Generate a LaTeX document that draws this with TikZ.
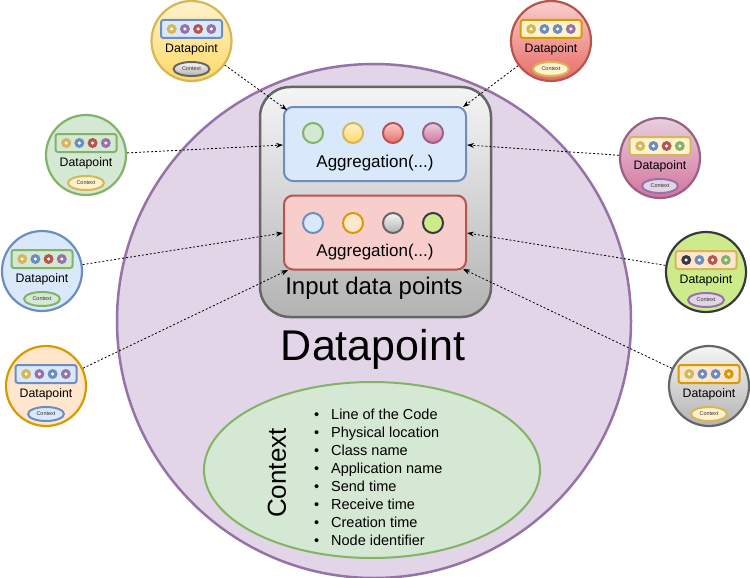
\documentclass[tikz,border=0pt]{standalone}
\usepackage{fontspec}
\setmainfont{Liberation Sans}
\usetikzlibrary{arrows.meta,shapes.geometric,calc}
\definecolor{yelF}{HTML}{FFF2CC}\definecolor{yelG}{HTML}{FFD966}\definecolor{yelS}{HTML}{D6B656}
\definecolor{redF}{HTML}{F8CECC}\definecolor{redG}{HTML}{EA6B66}\definecolor{redS}{HTML}{B85450}
\definecolor{grnF}{HTML}{D5E8D4}\definecolor{grnS}{HTML}{82B366}
\definecolor{purF}{HTML}{E6D0DE}\definecolor{purG}{HTML}{D5739D}\definecolor{purS}{HTML}{996185}
\definecolor{bluF}{HTML}{DAE8FC}\definecolor{bluS}{HTML}{6C8EBF}
\definecolor{orF}{HTML}{FFE6CC}\definecolor{orS}{HTML}{D79B00}
\definecolor{gryF}{HTML}{F5F5F5}\definecolor{gryG}{HTML}{B3B3B3}\definecolor{gryS}{HTML}{666666}
\definecolor{limF}{HTML}{CDEB8B}\definecolor{limS}{HTML}{36393D}
\definecolor{lilF}{HTML}{E1D5E7}\definecolor{lilS}{HTML}{9673A6}
\tikzset{
  dpcircle/.style={circle, minimum size=80pt, line width=2.2pt, inner sep=0pt},
  dprect/.style={rectangle, rounded corners=2.5pt, minimum width=61pt, minimum height=18pt, line width=2pt, inner sep=0pt},
  dpctx/.style={ellipse, minimum width=36pt, minimum height=14pt, line width=2pt, inner sep=0pt, font=\fontsize{5.5}{6}\selectfont, text=black!80},
  dotsm/.style={circle, minimum size=10pt, inner sep=0pt},
  dotin/.style={circle, minimum size=3.5pt, inner sep=0pt, fill=white},
  aggbox/.style={rectangle, rounded corners=9pt, minimum width=182pt, minimum height=74pt, line width=2pt, inner sep=0pt},
  aggdot/.style={circle, minimum size=20pt, line width=2pt, inner sep=0pt},
  conn/.style={black, line width=0.8pt, dash pattern=on 2pt off 2pt, -{Stealth[length=7pt,width=5pt]}},
}
\newcommand\smalldp[7]{%
  \node[dpcircle,#4] (#1) at (#2,#3) {};
  \node[dprect,#5] (#1r) at ($(#1)+(0,-12)$) {};
  \foreach \c [count=\i] in {#6} {
    \node[dotsm,fill=\c] (#1d\i) at ($(#1r)+(-19.8+13.2*\i-13.2,0)$) {};
    \node[dotin] (#1w\i) at (#1d\i) {};
  }
  \node[font=\fontsize{12.3}{12}\selectfont, inner sep=0pt] (#1t) at ($(#1)+(0,8)$) {Datapoint};
  \node[dpctx,#7] (#1c) at ($(#1)+(0,28)$) {Context};
}
\begin{document}
\begin{tikzpicture}[x=1pt,y=-1pt]
\useasboundingbox (0,0) rectangle (750,578);
% big circle
\node[circle, minimum size=514pt, inner sep=0pt, fill=lilF, draw=lilS, line width=2.5pt] (big) at (374,321) {};
% gray container
\node[rectangle, rounded corners=30pt, minimum width=231pt, minimum height=230pt, top color=gryF, bottom color=gryG, draw=gryS, line width=2.5pt] (inbox) at (375.5,202) {};
\node[aggbox, fill=bluF, draw=bluS] (agg1) at (375,144) {};
\node[aggbox, fill=redF, draw=redS] (agg2) at (375,232.5) {};
\node[aggdot, fill=grnF, draw=grnS] (a1) at (313,133) {};
\node[aggdot, top color=yelF, bottom color=yelG, draw=yelS] (a2) at (353,133) {};
\node[aggdot, top color=redF, bottom color=redG, draw=redS] (a3) at (393,133) {};
\node[aggdot, top color=purF, bottom color=purG, draw=purS] (a4) at (433,133) {};
\node[aggdot, fill=bluF, draw=bluS] (b1) at (313,223) {};
\node[aggdot, fill=orF, draw=orS] (b2) at (353,223) {};
\node[aggdot, top color=gryF, bottom color=gryG, draw=gryS] (b3) at (393,223) {};
\node[aggdot, fill=limF, draw=limS] (b4) at (433,223) {};
\node[font=\fontsize{17}{17}\selectfont] (agg1t) at (375,163) {Aggregation(...)};
\node[font=\fontsize{17}{17}\selectfont] (agg2t) at (375,252) {Aggregation(...)};
\node[font=\fontsize{24}{24}\selectfont] (inputt) at (374,288) {Input data points};
\node[font=\fontsize{43}{43}\selectfont] (title) at (373,349) {Datapoint};
% context ellipse
\node[ellipse, minimum width=336pt, minimum height=176pt, fill=grnF, draw=grnS, line width=2pt, inner sep=0pt] (ctx) at (372,470) {};
\node[rotate=90, font=\fontsize{26}{26}\selectfont] (ctxlabel) at (277,473) {Context};
\foreach \t [count=\i] in {Line of the Code,Physical location,Class name,Application name,Send time,Receive time,Creation time,Node identifier} {
  \node[anchor=base west, inner sep=0pt, font=\fontsize{14.5}{18}\selectfont] (li\i) at (314,419+18*\i-18) {\makebox[17pt][l]{\textbullet}\t};
}
% small datapoints
\smalldp{pY}{191.5}{41}{top color=yelF, bottom color=yelG, draw=yelS}{fill=bluF, draw=bluS}{yelS,lilS,redS,lilS}{top color=gryF, bottom color=gryG, draw=gryS}
\smalldp{pR}{551}{41}{top color=redF, bottom color=redG, draw=redS}{fill=yelF, draw=orS}{yelS,bluS,bluS,lilS}{fill=yelF, draw=yelS}
\smalldp{pG}{86}{155}{fill=grnF, draw=grnS}{fill=grnF, draw=grnS}{yelS,bluS,redS,lilS}{fill=yelF, draw=yelS}
\smalldp{pP}{660}{158}{top color=purF, bottom color=purG, draw=purS}{fill=yelF, draw=yelS}{yelS,bluS,redS,grnS}{fill=lilF, draw=lilS}
\smalldp{pB}{42}{271}{fill=bluF, draw=bluS}{fill=grnF, draw=grnS}{yelS,bluS,redS,lilS}{fill=grnF, draw=grnS}
\smalldp{pL}{706}{272}{fill=limF, draw=limS}{fill=orF, draw=yelS}{limS,bluS,redS,grnS}{fill=lilF, draw=lilS}
\smalldp{pO}{46}{386}{fill=orF, draw=orS}{fill=bluF, draw=bluS}{yelS,lilS,bluS,lilS}{fill=bluF, draw=bluS}
\smalldp{pK}{709}{386}{top color=gryF, bottom color=gryG, draw=gryS}{fill=orF, draw=orS}{yelS,bluS,bluS,orS}{fill=yelF, draw=yelS}
% connectors
\draw[conn] (pY) -- ($(agg1.north west)+(4,4)$);
\draw[conn] (pR) -- ($(agg1.north east)+(-4,1)$);
\draw[conn] (pG) -- ($(agg1.west)+(0,1)$);
\draw[conn] (pP) -- ($(agg1.east)+(0,1)$);
\draw[conn] (pB) -- ($(agg2.west)+(0,0.5)$);
\draw[conn] (pL) -- ($(agg2.east)+(0,0.5)$);
\draw[conn] (pO) -- ($(agg2.south west)+(5,-0.5)$);
\draw[conn] (pK) -- ($(agg2.south east)+(-4,-1.5)$);
\end{tikzpicture}
\end{document}
